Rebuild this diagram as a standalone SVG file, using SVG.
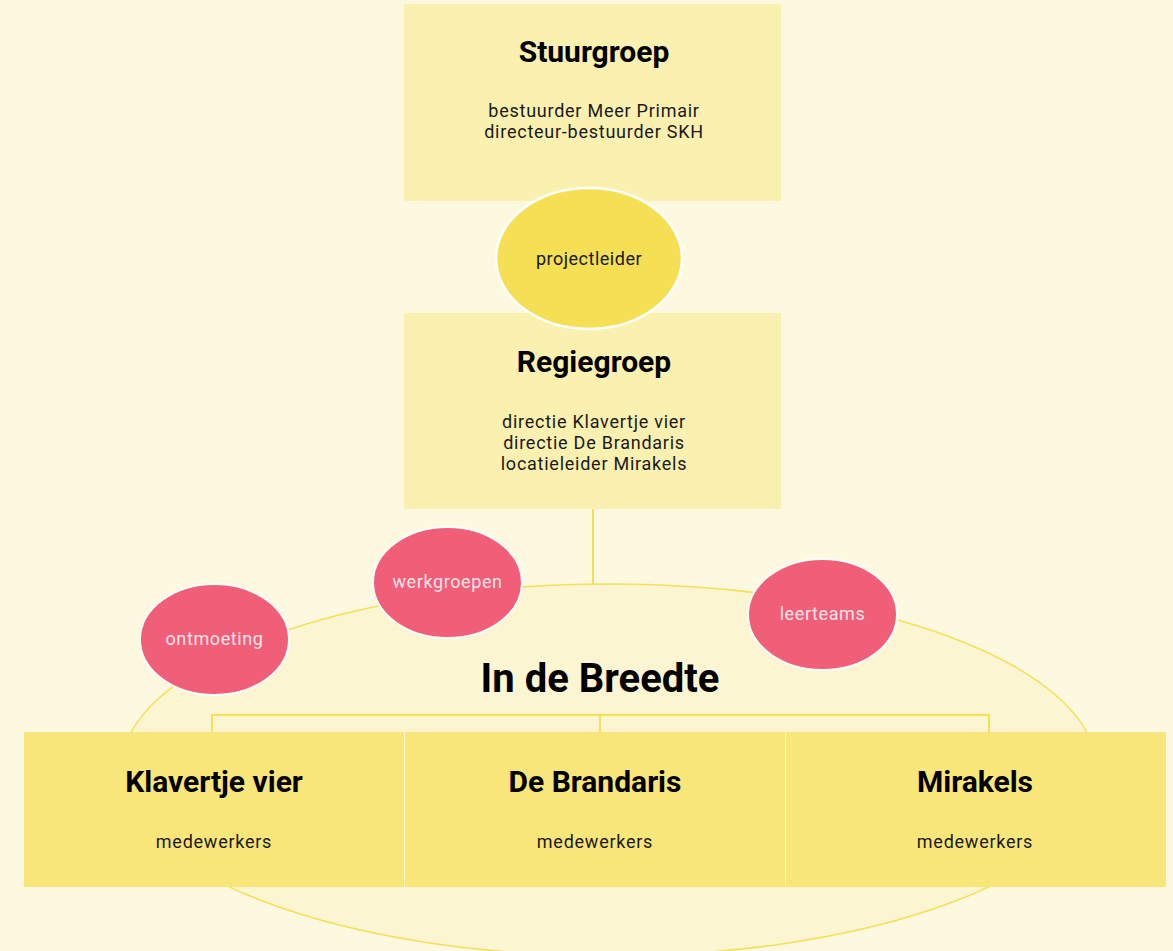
<svg xmlns="http://www.w3.org/2000/svg" width="1173" height="951" viewBox="0 0 1173 951">
<style>
.title{font-family:Roboto,"Liberation Sans",sans-serif;font-weight:700;font-size:30px;fill:#000;text-anchor:middle}
.body{font-family:Roboto,"Liberation Sans",sans-serif;font-size:18px;fill:#1a1a1a;text-anchor:middle;letter-spacing:0.75px}
.pl{font-family:Roboto,"Liberation Sans",sans-serif;font-size:18px;fill:#1a1a1a;text-anchor:middle;letter-spacing:0.5px}
.pk{font-family:Roboto,"Liberation Sans",sans-serif;font-size:18px;fill:#fde3e8;text-anchor:middle;letter-spacing:0.6px}
.topbox{fill:#faf0b0}
.school{fill:#f8e67a}
.pink{fill:#f15e78;stroke:#ffffff;stroke-width:2}
.conn{stroke:#f5e055;stroke-width:2;fill:none}
</style>
<rect width="1173" height="951" fill="#fdf8e0"/>
<g id="breedte">
<ellipse cx="609" cy="770" rx="488" ry="186" fill="#fbf5d2" stroke="#f5e055" stroke-width="1.5"/>
<text x="600" y="692" class="title" style="font-size:40px">In de Breedte</text>
</g>
<g id="connectors">
<line class="conn" x1="593" y1="509" x2="593" y2="584"/>
<path class="conn" d="M212 732 V715 H989 V732 M600 715 V732"/>
</g>
<g id="stuurgroep">
<rect class="topbox" x="404" y="4" width="377" height="197"/>
<text x="594" y="62" class="title">Stuurgroep</text>
<text x="594" y="117" class="body">bestuurder Meer Primair</text>
<text x="594" y="138" class="body">directeur-bestuurder SKH</text>
</g>
<g id="regiegroep">
<rect class="topbox" x="404" y="313" width="377" height="196"/>
<text x="594" y="372" class="title">Regiegroep</text>
<text x="594" y="428" class="body">directie Klavertje vier</text>
<text x="594" y="449" class="body">directie De Brandaris</text>
<text x="594" y="470" class="body">locatieleider Mirakels</text>
</g>
<g id="projectleider">
<ellipse cx="589" cy="258.5" rx="93" ry="70.5" fill="#f5e055" stroke="#ffffff" stroke-width="2.5"/>
<text x="589" y="265" class="pl">projectleider</text>
</g>
<g id="ontmoeting">
<ellipse class="pink" cx="214.5" cy="639.5" rx="74.5" ry="55.5"/>
<text x="214.5" y="645" class="pk">ontmoeting</text>
</g>
<g id="werkgroepen">
<ellipse class="pink" cx="447.5" cy="582.5" rx="74.5" ry="55.5"/>
<text x="447.5" y="588" class="pk">werkgroepen</text>
</g>
<g id="leerteams">
<ellipse class="pink" cx="822.5" cy="614.5" rx="74.5" ry="55.5"/>
<text x="822.5" y="620" class="pk">leerteams</text>
</g>
<g id="klavertje">
<rect class="school" x="24" y="732" width="380" height="155"/>
<text x="214" y="792" class="title">Klavertje vier</text>
<text x="214" y="848" class="body">medewerkers</text>
</g>
<g id="brandaris">
<rect class="school" x="405" y="732" width="380" height="155"/>
<text x="595" y="792" class="title">De Brandaris</text>
<text x="595" y="848" class="body">medewerkers</text>
</g>
<g id="mirakels">
<rect class="school" x="786" y="732" width="380" height="155"/>
<text x="975" y="792" class="title">Mirakels</text>
<text x="975" y="848" class="body">medewerkers</text>
</g>
</svg>
